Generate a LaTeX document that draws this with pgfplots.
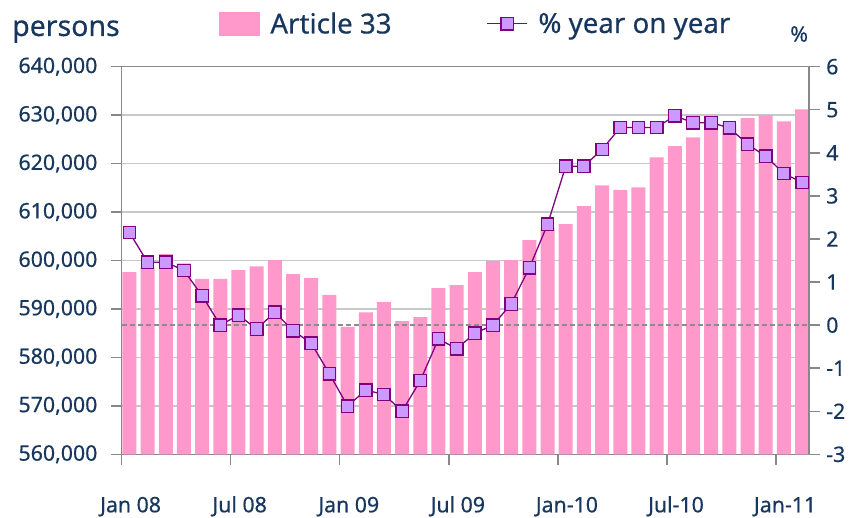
\documentclass[border=0pt]{standalone}
\usepackage{fontspec}
\setmainfont{Noto Sans}[FakeBold=0.5]
\usepackage{pgfplots}
\usepackage{pgfplotstable}
\pgfplotsset{compat=1.18}
\definecolor{textblue}{HTML}{17375E}
\definecolor{barpink}{HTML}{FF99CC}
\definecolor{markfill}{HTML}{CC99FF}
\definecolor{lineviolet}{HTML}{800080}
\definecolor{gridgray}{HTML}{C8C8C8}
\definecolor{axisgray}{HTML}{888888}
\definecolor{zerogray}{HTML}{8C8C8C}

\pgfplotstableread{
m bar pct
0 597600 2.15
1 598600 1.46
2 601300 1.46
3 599400 1.27
4 596200 0.68
5 596200 0.00
6 598000 0.23
7 598800 -0.09
8 600100 0.30
9 597200 -0.13
10 596400 -0.42
11 592900 -1.13
12 586300 -1.88
13 589300 -1.51
14 591400 -1.61
15 587500 -2.00
16 588300 -1.29
17 594300 -0.32
18 594900 -0.55
19 597600 -0.19
20 599900 0.00
21 600100 0.49
22 604200 1.33
23 606800 2.34
24 607500 3.69
25 611200 3.69
26 615500 4.08
27 614500 4.59
28 615100 4.59
29 621300 4.59
30 623600 4.86
31 625400 4.70
32 627800 4.70
33 628300 4.58
34 629400 4.20
35 630000 3.92
36 628700 3.52
37 631200 3.31
}\datatable

\pgfplotsset{
  common/.style={
    scale only axis, width=687.4pt, height=387.6pt,
    at={(0pt,0pt)}, anchor=south west,
    xmin=-0.43, xmax=37.38,
    tick align=outside,
    major tick length=10.7pt,
    tick style={axisgray, line width=1.4pt},
    axis line style={axisgray, line width=1.4pt},
    /pgf/number format/assume math mode=true,
    tick label style={font=\fontsize{21.3}{24}\selectfont, text=textblue},
  },
  barleg/.style={legend image code/.code={\fill[barpink] (0pt,-11.85pt) rectangle (40.7pt,11.85pt);}},
  lineleg/.style={legend image code/.code={\draw[##1,mark repeat=2,mark phase=2] plot coordinates {(0pt,0pt) (20pt,0pt) (40pt,0pt)};}},
}

\begin{document}
\begin{tikzpicture}
\useasboundingbox (-121.6pt,-63.7pt) rectangle (733.4pt,454.3pt);
\begin{axis}[
  common,
  ymin=560000, ymax=640000,
  ytick={560000,570000,580000,590000,600000,610000,620000,630000,640000},
  scaled y ticks=false,
  yticklabel style={/pgf/number format/.cd, fixed, 1000 sep={,}, /tikz/xshift=-10pt},
  ytick pos=left,
  xtick pos=bottom,
  xtick={-0.43,5.57,11.57,17.57,23.57,29.57,35.57},
  xticklabels={Jan 08,Jul 08,Jan 09,Jul 09,Jan-10,Jul-10,Jan-11},
  xticklabel style={anchor=base, xshift=9pt, yshift=-47.3pt},
  ymajorgrids=true,
  grid style={gridgray, line width=1.4pt},
  legend columns=4,
  legend style={at={(0.1417,1.111)}, anchor=west, draw=none, fill=none,
    inner sep=0pt, font=\fontsize{27.7}{30}\selectfont, text=textblue,
    nodes={inner sep=0pt},
    /tikz/every odd column/.append style={column sep=10.5pt},
    /tikz/every even column/.append style={column sep=95pt}},
]
\addplot[ybar, bar width=14pt, fill=barpink, draw=none, barleg]
  table[x=m, y=bar] {\datatable};
\addlegendentry{Article 33}
\addlegendimage{color=lineviolet, line width=1.3pt, mark=square*, mark size=6.2pt,
  mark options={fill=markfill, draw=lineviolet, line width=1.3pt}, lineleg}
\addlegendentry{\% year on year}
\end{axis}
\begin{axis}[
  common,
  ymin=-3, ymax=6,
  ytick={-3,-2,-1,0,1,2,3,4,5,6},
  axis y line*=right,
  axis x line=none,
  yticklabel style={anchor=west, xshift=3pt},
]
\addplot[zerogray, line width=1.5pt, dash pattern=on 5pt off 3pt]
  coordinates {(-0.43,0) (37.38,0)};
\addplot[color=lineviolet, line width=1.3pt, mark=square*, mark size=6.2pt,
  mark options={fill=markfill, draw=lineviolet, line width=1.3pt, solid}]
  table[x=m, y=pct] {\datatable};
\end{axis}
\node[anchor=base west, inner sep=0pt, font=\fontsize{28.5}{30}\selectfont, text=textblue]
  at (-109.6pt,418.3pt) {persons};
\node[anchor=base west, inner sep=0pt, font=\fontsize{21.5}{24}\selectfont, text=textblue]
  at (668.4pt,412.6pt) {\%};
\end{tikzpicture}
\end{document}
